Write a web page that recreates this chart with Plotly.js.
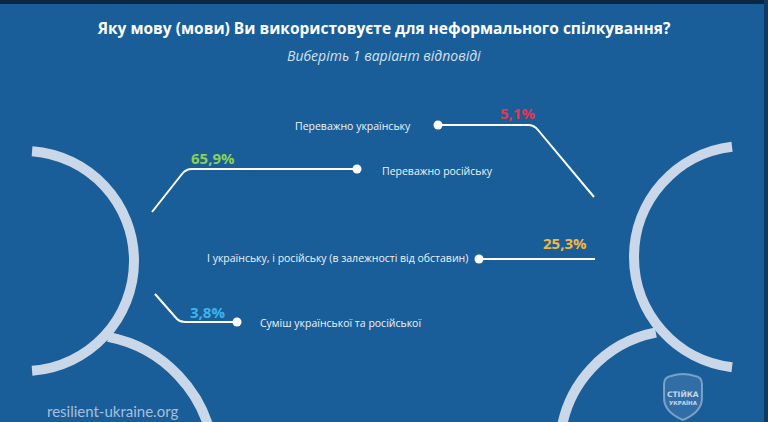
<!DOCTYPE html>
<html>
<head>
<meta charset="utf-8">
<script src="https://cdn.plot.ly/plotly-3.0.1.min.js"></script>
<style>
html,body{margin:0;padding:0;background:#195e98;}
#chart{width:768px;height:422px;}
</style>
</head>
<body>
<div id="chart"></div>
<script>
// ---- data ----
const titleText = "Яку мову (мови) Ви використовуєте для неформального спілкування?";
const subtitleText = "Виберіть 1 варіант відповіді";
const categories = [
  "Переважно українську",
  "Переважно російську",
  "І українську, і російську (в залежності від обставин)",
  "Суміш української та російської"
];
const values = [5.1, 65.9, 25.3, 3.8];
const sourceText = "resilient-ukraine.org";
const logoLines = ["СТІЙКА", "УКРАЇНА"];

// ---- styles / layout constants ----
const valueColors = ["#e8354f", "#88d158", "#f3b640", "#3db4ec"];
const BG = "#195e98";
const ARC = "#c9d7e8";
// per item: dot, leader path, value label position, category label position & anchor
const items = [
  {dot:[438,125], path:"M 438 125 L 528 125 Q 534 125 538 130 L 594 197", val:[517,113], lab:[413,126], anchor:"right"},
  {dot:[357,169], path:"M 357 169 L 192 169 Q 186 169 182 174 L 152 212", val:[213,158], lab:[380,171], anchor:"left"},
  {dot:[479,259], path:"M 479 259 L 595 259", val:[565,243], lab:[470,258], anchor:"right"},
  {dot:[237,322], path:"M 155 294 L 177 319 Q 180 322 185 322 L 237 322", val:[207,312], lab:[258,323], anchor:"left"}
];

function fmt(v){ return v.toFixed(1).replace('.', ',') + '%'; }

function arcPath(cx, cy, r, a0, a1){
  const rad = d => d*Math.PI/180;
  const n = Math.max(1, Math.ceil(Math.abs(a1-a0)/45));
  const step = (a1-a0)/n;
  const k = 4/3*Math.tan(rad(step)/4)*r;
  let d = '';
  for (let i=0;i<n;i++){
    const t0 = rad(a0+i*step), t1 = rad(a0+(i+1)*step);
    const p0 = [cx+r*Math.cos(t0), cy+r*Math.sin(t0)];
    const p3 = [cx+r*Math.cos(t1), cy+r*Math.sin(t1)];
    const c1 = [p0[0]-k*Math.sin(t0), p0[1]+k*Math.cos(t0)];
    const c2 = [p3[0]+k*Math.sin(t1), p3[1]-k*Math.cos(t1)];
    if (i===0) d += `M ${p0[0].toFixed(2)} ${p0[1].toFixed(2)}`;
    d += ` C ${c1[0].toFixed(2)} ${c1[1].toFixed(2)} ${c2[0].toFixed(2)} ${c2[1].toFixed(2)} ${p3[0].toFixed(2)} ${p3[1].toFixed(2)}`;
  }
  return d;
}

const shapes = [];
const arcLine = {color: ARC, width: 10};
// decorative arcs
shapes.push({type:'path', xref:'x', yref:'y', path: arcPath(24, 261, 110, -85.8, 85.8), line: arcLine, layer:'below'});
shapes.push({type:'path', xref:'x', yref:'y', path: arcPath(83, 466, 131.5, -79, -8), line: arcLine, layer:'below'});
shapes.push({type:'path', xref:'x', yref:'y', path: arcPath(745, 257, 111, 263.3, 96.7), line: arcLine, layer:'below'});
shapes.push({type:'path', xref:'x', yref:'y', path: arcPath(678.5, 449, 118.7, 259, 186), line: arcLine, layer:'below'});
// frame edges
shapes.push({type:'rect', xref:'x', yref:'y', x0:0, x1:768, y0:0, y1:4, fillcolor:'#0c2744', line:{width:0}});
shapes.push({type:'rect', xref:'x', yref:'y', x0:764, x1:768, y0:0, y1:422, fillcolor:'#0f3a64', line:{width:0}});
// leader lines
items.forEach(it => shapes.push({type:'path', xref:'x', yref:'y', path: it.path, line:{color:'#ffffff', width:2}}));
// logo shield
shapes.push({type:'path', xref:'x', yref:'y',
  path:"M 664 384 Q 664 377 671 376 Q 683 372 695 376 Q 702 377 702 384 L 702 398 Q 702 412 683 420 Q 664 412 664 398 Z",
  line:{color:'rgba(190,210,235,0.55)', width:2}, fillcolor:'rgba(120,160,205,0.25)'});

const annotations = [];
annotations.push({x:384, y:55, xref:'x', yref:'y', text:'<i>'+subtitleText+'</i>', showarrow:false,
  font:{family:'Open Sans, sans-serif', size:14, color:'#d3e0ef'}, xanchor:'center', yanchor:'middle'});
categories.forEach((c,i) => {
  const it = items[i];
  annotations.push({x:it.lab[0], y:it.lab[1], xref:'x', yref:'y', text:c, showarrow:false,
    font:{family:'Open Sans, sans-serif', size:10.5, color:'#eef3f9'}, xanchor:it.anchor, yanchor:'middle'});
  annotations.push({x:it.val[0], y:it.val[1], xref:'x', yref:'y', text:'<b>'+fmt(values[i])+'</b>', showarrow:false,
    font:{family:'Open Sans, sans-serif', size:15, color:valueColors[i]}, xanchor:'center', yanchor:'middle'});
});
annotations.push({x:45, y:411, xref:'x', yref:'y', text:sourceText, showarrow:false,
  font:{family:'Lato, sans-serif', size:15, color:'#a6bfdc'}, xanchor:'left', yanchor:'middle'});
annotations.push({x:683, y:394, xref:'x', yref:'y', text:'<b>'+logoLines[0]+'</b>', showarrow:false,
  font:{family:'DejaVu Sans, sans-serif', size:7.5, color:'rgba(225,235,248,0.85)'}, xanchor:'center', yanchor:'middle'});
annotations.push({x:683, y:402, xref:'x', yref:'y', text:'<b>'+logoLines[1]+'</b>', showarrow:false,
  font:{family:'DejaVu Sans, sans-serif', size:5.5, color:'rgba(225,235,248,0.85)'}, xanchor:'center', yanchor:'middle'});

const dotTrace = {
  type:'scatter', mode:'markers',
  x: items.map(it => it.dot[0]), y: items.map(it => it.dot[1]),
  text: categories, hoverinfo:'text',
  marker:{size:9, color:'#ffffff'}
};

const layout = {
  width:768, height:422,
  margin:{l:0, r:0, t:0, b:0},
  paper_bgcolor:BG, plot_bgcolor:BG,
  showlegend:false,
  title:{text:'<b>'+titleText+'</b>', x:0.5, xanchor:'center', y:1-29/422, yanchor:'middle', yref:'container',
    font:{family:'Open Sans, sans-serif', size:15.5, color:'#ffffff'}},
  xaxis:{range:[0,768], visible:false, fixedrange:true},
  yaxis:{range:[422,0], visible:false, fixedrange:true},
  shapes, annotations
};

Plotly.newPlot('chart', [dotTrace], layout, {displayModeBar:false, staticPlot:true});
</script>
</body>
</html>
